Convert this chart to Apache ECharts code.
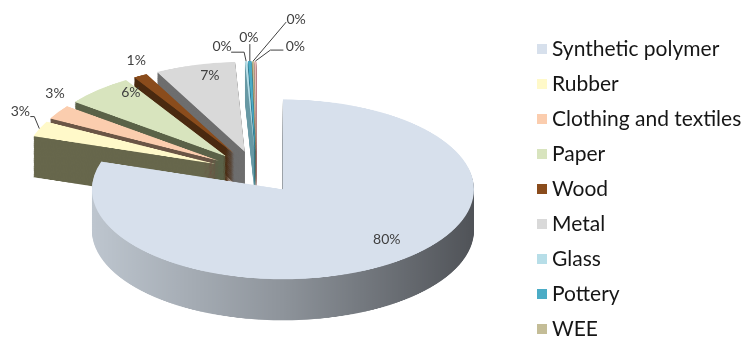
<!DOCTYPE html>
<html><head><meta charset="utf-8">
<script src="https://cdn.jsdelivr.net/npm/echarts@6/dist/echarts.min.js"></script>
<style>
html,body{margin:0;padding:0;background:#fff;width:745px;height:341px;overflow:hidden;}
#wrap{position:relative;width:745px;height:341px;}
#pie{position:absolute;left:0;top:0;width:745px;transform-origin:0 0;}
#over{position:absolute;left:0;top:0;width:745px;height:341px;}
</style></head><body>
<div id="wrap"><div id="pie"></div><div id="over"></div></div>
<script>
// ---- data ----
const categories = ['Synthetic polymer', 'Rubber', 'Clothing and textiles', 'Paper', 'Wood', 'Metal', 'Glass', 'Pottery', 'WEE', 'Other'];
const shares = [80, 2.8, 2.6, 5.8, 1.2, 6.8, 0.2, 0.3, 0.15, 0.15];
const legendNames = ['Synthetic polymer', 'Rubber', 'Clothing and textiles', 'Paper', 'Wood', 'Metal', 'Glass', 'Pottery', 'WEE'];

// ---- styles ----
const topColors = ['#D7E0EC', '#FFF9C9', '#FBCDAE', '#D8E4BE', '#8A4C1C', '#D9D9D9', '#B7DEE8', '#4BACC6', '#C4BD97', '#E6B9B8'];
const sideGradient = {type: 'linear', x: 0, y: 0, x2: 1, y2: 0, colorStops: [
  {offset: 0, color: '#BEC6CF'}, {offset: 0.5, color: '#8E949B'}, {offset: 1, color: '#505358'}]};
const sideColors = [sideGradient, '#67674C', '#6B5646', '#5B6248', '#4A2A10', '#6E6E6E', '#6A9AA6', '#2B6E80', '#77704F', '#9B6E6D'];

// ---- layout ----
const W = 745, H = 341;
const CX = 256.5, CY = 172;
const R = 191;
const SQUASH = 0.47;
const EXPLODE = 45;
const DEPTH = 41;
const LAYERS = 41;
const FONT = 'Lato, "Open Sans", sans-serif';

const pieEl = document.getElementById('pie');
const HA = H / SQUASH;
pieEl.style.height = HA + 'px';
pieEl.style.transform = 'scaleY(' + SQUASH + ')';

const chartA = echarts.init(pieEl, null, {renderer: 'canvas', width: W, height: HA});
function pieData(colors) {
  return categories.map((name, i) => ({
    name: name, value: shares[i], selected: true,
    itemStyle: {color: colors[i], borderWidth: 0},
    select: {itemStyle: {color: colors[i], borderWidth: 0}}
  }));
}
const layers = [];
for (let l = 0; l <= LAYERS; l++) {
  const isTop = l === LAYERS;
  const off = (LAYERS - l) / LAYERS * DEPTH / SQUASH;
  layers.push({
    type: 'pie', startAngle: 90, clockwise: true,
    center: [CX, CY / SQUASH + off], radius: R,
    selectedMode: 'multiple', selectedOffset: EXPLODE,
    silent: true, animation: false,
    label: {show: false}, labelLine: {show: false},
    emphasis: {disabled: true},
    itemStyle: {borderWidth: 0},
    data: pieData(isTop ? topColors : sideColors)
  });
}
chartA.setOption({animation: false, series: layers});

// ---- labels + legend overlay ----
const total = shares.reduce((a, b) => a + b, 0);
const mids = [];
let acc = 0;
shares.forEach(v => { mids.push((acc + v / 2) / total * 2 * Math.PI); acc += v; });
function ellipsePoint(i, k) {
  const a = mids[i], ux = Math.sin(a), uy = -Math.cos(a);
  return [CX + EXPLODE * ux + R * k * ux, CY + (EXPLODE * uy + R * k * uy) * SQUASH];
}
const labelSpots = [
  {k: 0.8, dx: 14, dy: -8},
  {k: 1, dx: -19, dy: -17, line: [[0, 0], [-5, -12], [-9, -12]]},
  {k: 1, dx: -3, dy: -18},
  {k: 0.8, dx: 7, dy: -11},
  {k: 1, dx: -4, dy: -15},
  {k: 0.8, dx: 5, dy: -7},
  {k: 1, dx: -24, dy: -15, line: [[0, 0], [-2, -9], [-15, -9]]},
  {k: 1, dx: -1, dy: -24, line: [[0, 0], [0, -17]]},
  {k: 1, dx: 43, dy: -42, line: [[0, 0], [33, -39]]},
  {k: 1, dx: 40, dy: -15, line: [[0, 0], [15, -11], [28, -11]]}
];

const chartB = echarts.init(document.getElementById('over'), null, {renderer: 'canvas', width: W, height: H});
chartB.setOption({
  animation: false,
  legend: {
    orient: 'vertical', left: 537, top: 38.5, padding: 0,
    itemWidth: 10, itemHeight: 10, itemGap: 14,
    icon: 'rect',
    textStyle: {fontFamily: FONT, fontSize: 21, color: '#161616'},
    data: legendNames.map(n => ({name: n, itemStyle: {color: topColors[categories.indexOf(n)], opacity: 1, borderWidth: 0}}))
  },
  series: [{
    type: 'pie', startAngle: 90, clockwise: true,
    center: [CX, CY], radius: R,
    silent: true, animation: false,
    percentPrecision: 0,
    avoidLabelOverlap: false,
    itemStyle: {color: 'rgba(0,0,0,0)', borderWidth: 0},
    label: {formatter: '{d}%', fontFamily: FONT, fontSize: 14, color: '#404040'},
    labelLine: {show: true, length: 5, length2: 5, lineStyle: {color: '#404040', width: 1}},
    labelLayout: function (p) {
      const i = p.dataIndex, s = labelSpots[i], pt = ellipsePoint(i, s.k);
      const res = {x: pt[0] + s.dx, y: pt[1] + s.dy, align: 'center', verticalAlign: 'middle'};
      if (s.line) res.labelLinePoints = s.line.map(q => [pt[0] + q[0], pt[1] + q[1]]);
      return res;
    },
    data: categories.map((name, i) => ({
      name: name, value: shares[i],
      itemStyle: {color: 'rgba(0,0,0,0)'},
      label: {position: labelSpots[i].line || labelSpots[i].k === 1 ? 'outside' : 'inside'},
      labelLine: {show: !!labelSpots[i].line}
    }))
  }]
});
</script>
</body></html>
